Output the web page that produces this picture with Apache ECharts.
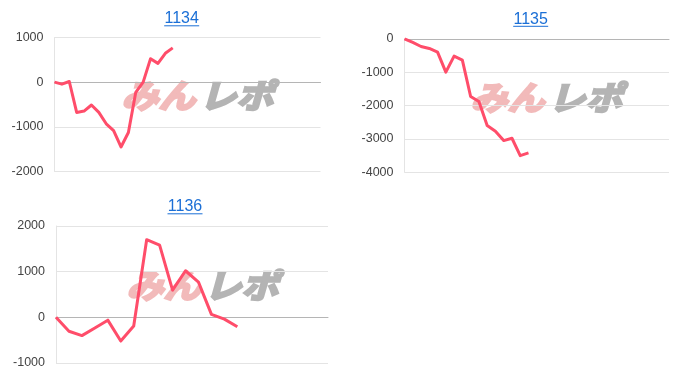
<!DOCTYPE html>
<html>
<head>
<meta charset="utf-8">
<script src="https://cdn.jsdelivr.net/npm/echarts@6/dist/echarts.min.js"></script>
<style>
html,body{margin:0;padding:0;background:#fff;}
#c{width:700px;height:380px;}
</style>
</head>
<body>
<div id="c"></div>
<script>
// ---- data ----
const titles = ['1134', '1135', '1136'];
const values1134 = [0, -45, 15, -677, -647, -511, -677, -932, -1083, -1451, -1128, -226, 0, 526, 421, 647, 767];
const values1135 = [0, -110, -230, -290, -400, -1000, -520, -640, -1730, -1880, -2600, -2770, -3050, -2980, -3500, -3420];
const values1136 = [0, -305, -400, -232, -62, -520, -190, 1700, 1580, 595, 1020, 772, 66, -40, -205];
const categoryCounts = [37, 33, 22];
const yMin = [-2000, -4000, -1000];
const yMax = [1000, 0, 2000];
const yTickLabels1134 = ['-2000', '-1000', '0', '1000'];
const yTickLabels1135 = ['-4000', '-3000', '-2000', '-1000', '0'];
const yTickLabels1136 = ['-1000', '0', '1000', '2000'];

const seriesValues = [values1134, values1135, values1136];
const tickLabels = [yTickLabels1134, yTickLabels1135, yTickLabels1136];

// ---- layout ----
const grids = [
  {left: 54.5, top: 37.5, width: 266, height: 134},
  {left: 404.5, top: 38.8, width: 264.5, height: 133.5},
  {left: 56, top: 226, width: 272, height: 137}
];
const titlePos = [[181.7, 19], [530.7, 19.5], [185, 207]];
const markPos = [[197.5, 95.5], [546.5, 97], [202.5, 285.5]];

const lineColor = '#ff4d6a';
const titleColor = '#1b6fd6';

const chart = echarts.init(document.getElementById('c'), null, {renderer: 'canvas'});

const xAxes = [], yAxes = [], series = [], graphics = [];
for (let i = 0; i < 3; i++) {
  const cats = [];
  for (let k = 0; k < categoryCounts[i]; k++) cats.push(String(k + 1));
  const labels = tickLabels[i];
  const lo = yMin[i];
  xAxes.push({
    type: 'category', gridIndex: i, data: cats, boundaryGap: false,
    axisTick: {show: false}, axisLabel: {show: false},
    axisLine: {show: true, onZero: true, lineStyle: {color: '#b5b5b5', width: 1}},
    splitLine: {show: false}
  });
  yAxes.push({
    type: 'value', gridIndex: i, min: yMin[i], max: yMax[i], interval: 1000,
    axisLine: {show: true, lineStyle: {color: '#e4e4e4', width: 1}},
    axisTick: {show: false},
    splitLine: {show: true, lineStyle: {color: '#e4e4e4', width: 1}},
    axisLabel: {
      color: '#444', fontSize: 12.5, fontFamily: 'Liberation Sans, Arial, sans-serif', margin: 11,
      formatter: function (v) { const idx = Math.round((v - lo) / 1000); return labels[idx] !== undefined ? labels[idx] : String(v); }
    }
  });
  series.push({
    type: 'line', xAxisIndex: i, yAxisIndex: i, data: seriesValues[i],
    symbol: 'none', smooth: false, z: 5,
    lineStyle: {color: lineColor, width: 3, join: 'round'},
    animation: false
  });
  // title text + underline
  graphics.push({
    type: 'text', x: titlePos[i][0], y: titlePos[i][1], z: 10,
    style: {text: titles[i], fill: titleColor, font: '16px "Liberation Sans", Arial, sans-serif',
            textAlign: 'center', textVerticalAlign: 'middle'}
  });
  graphics.push({
    type: 'line', z: 10,
    shape: {x1: titlePos[i][0] - 17.5, y1: titlePos[i][1] + 6.8, x2: titlePos[i][0] + 17.5, y2: titlePos[i][1] + 6.8},
    style: {stroke: titleColor, lineWidth: 1}
  });
  // watermark
  graphics.push({
    type: 'text', x: markPos[i][0] - 2, y: markPos[i][1], z: -1, silent: true,
    scaleX: 1.12,
    style: {text: 'みん', fill: '#f2baba', stroke: '#f2baba', lineWidth: 2.5,
            font: 'italic bold 33px "Noto Sans CJK JP", sans-serif',
            textAlign: 'right', textVerticalAlign: 'middle'}
  });
  graphics.push({
    type: 'text', x: markPos[i][0] + 2, y: markPos[i][1], z: -1, silent: true,
    scaleX: 1.12,
    style: {text: 'レポ', fill: '#b4b4b4', stroke: '#b4b4b4', lineWidth: 2.5,
            font: 'italic bold 33px "Noto Sans CJK JP", sans-serif',
            textAlign: 'left', textVerticalAlign: 'middle'}
  });
}

chart.setOption({
  animation: false,
  grid: grids.map(g => Object.assign({containLabel: false}, g)),
  xAxis: xAxes,
  yAxis: yAxes,
  series: series,
  graphic: graphics
});
</script>
</body>
</html>
